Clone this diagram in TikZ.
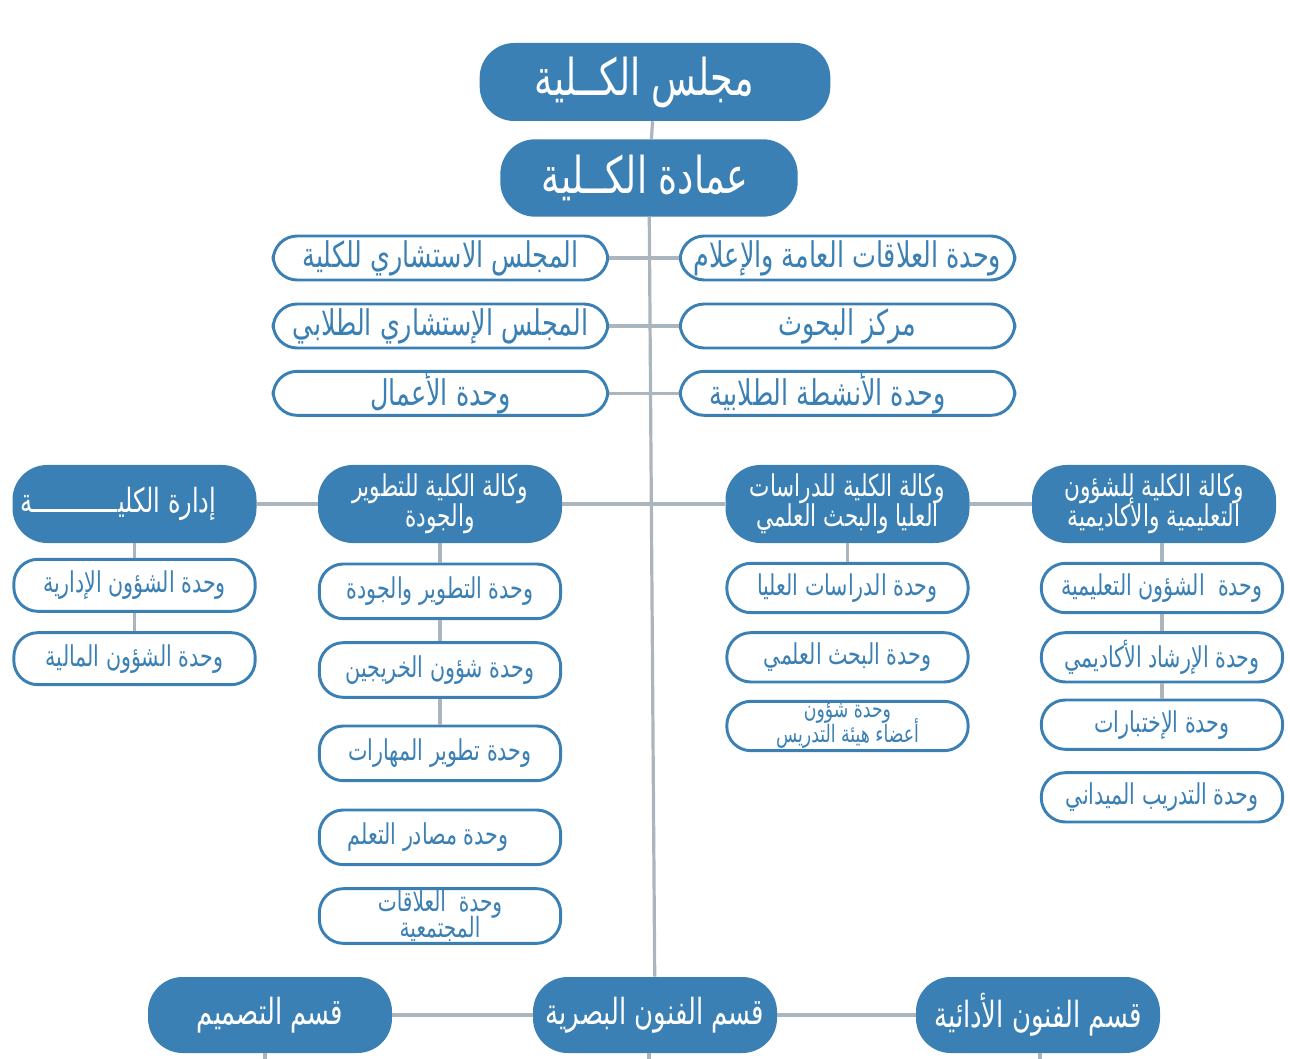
\documentclass[tikz,border=0pt]{standalone}
\usepackage{fontspec}
\usetikzlibrary{positioning}
\TeXXeTstate=1
\newfontfamily\arabicfont[Script=Arabic,FakeStretch=0.72]{DejaVu Sans}
\definecolor{deanblue}{RGB}{59,128,180}
\definecolor{linkgray}{RGB}{170,181,189}
\newcommand{\arsize}[2]{\arabicfont\fontsize{#1}{#2}\selectfont\lineskiplimit=-\maxdimen}
\newcommand{\rl}[1]{\beginR #1\endR}
\tikzstyle{every node}=[align=center,inner sep=0pt]
\tikzstyle{head}=[fill=deanblue,text=white,rectangle,rounded corners=26pt,minimum width=183pt,minimum height=58.5pt,font=\arsize{22.5}{22.5}]
\tikzstyle{top}=[head,font=\arsize{38}{40}]
\tikzstyle{dept}=[head,minimum height=57pt,font=\arsize{27}{28}]
\tikzstyle{unit}=[draw=deanblue,line width=2.2pt,fill=white,text=deanblue,rectangle,rounded corners=18pt,minimum width=181pt,minimum height=37pt,font=\arsize{21.5}{22}]
\tikzstyle{wide}=[unit,minimum width=251pt,minimum height=33pt,font=\arsize{26.5}{28}]
\tikzstyle{twoline}=[unit,font=\arsize{18}{18.5}]
\tikzstyle{link}=[draw=linkgray,line width=2.4pt]

\begin{document}
\begin{tikzpicture}[x=0.75pt,y=-0.75pt]
  \useasboundingbox (0,0) rectangle (1290,1059);
  % council and deanship
  \node[top, minimum width=263pt] (council) at (655,82) {\rl{مجلس الكــلية}\hspace*{16pt}};
  \node[top, minimum width=223pt, minimum height=58pt] (dean) at (649,178) {\rl{عمادة الكــلية}\hspace*{6pt}};
  % boards and units around the trunk
  \node[wide] (board) at (440.5,258) {\rl{المجلس الاستشاري للكلية}};
  \node[wide, below of=board, node distance=51pt] (students) {\rl{المجلس الإستشاري الطلابي}};
  \node[wide, below of=students, node distance=50.5pt] (business) {\rl{وحدة الأعمال}};
  \node[wide] (media) at (847.5,258) {\rl{وحدة العلاقات العامة والإعلام}};
  \node[wide, below of=media, node distance=51pt] (research) {\rl{مركز البحوث}};
  \node[wide, below of=research, node distance=50.5pt] (activity) {\hspace*{-30pt}\rl{وحدة الأنشطة الطلابية}};
  % vice deanships
  \node[head, font=\arsize{25}{26}] (admin) at (134.5,504) {\rl{إدارة الكليــــــــــــة}\hspace*{24pt}};
  \node[head] (quality) at (440,504) {\rl{وكالة الكلية للتطوير}\\\rl{والجودة}};
  \node[head] (grad) at (847.5,504) {\rl{وكالة الكلية للدراسات}\\\rl{العليا والبحث العلمي}};
  \node[head] (acad) at (1154,504) {\rl{وكالة الكلية للشؤون}\\\rl{التعليمية والأكاديمية}};
  % units below each vice deanship
  \node[unit, minimum height=39pt, below of=admin, node distance=61pt] (adm1) {\rl{وحدة الشؤون الإدارية}};
  \node[unit, minimum height=39pt, below of=adm1, node distance=55pt] (adm2) {\rl{وحدة الشؤون المالية}};
  \node[unit, minimum height=41pt, below of=quality, node distance=65.5pt] (qua1) {\rl{وحدة التطوير والجودة}};
  \node[unit, minimum height=41pt, below of=qua1, node distance=59pt] (qua2) {\rl{وحدة شؤون الخريجين}};
  \node[unit, minimum height=41pt, below of=qua2, node distance=62.5pt] (qua3) {\rl{وحدة تطوير المهارات}};
  \node[unit, minimum height=41pt, below of=qua3, node distance=63pt] (qua4) {\hspace*{-18pt}\rl{وحدة مصادر التعلم}};
  \node[twoline, minimum height=41pt, below of=qua4, node distance=59pt, font=\arsize{21}{19.5}] (qua5) {\rl{وحدة\ \ العلاقات}\\\rl{المجتمعية}};
  \node[unit, below of=grad, node distance=63pt] (gra1) {\rl{وحدة الدراسات العليا}};
  \node[unit, below of=gra1, node distance=52pt] (gra2) {\rl{وحدة البحث العلمي}};
  \node[twoline, below of=gra2, node distance=51.5pt] (gra3) {\rl{وحدة شؤون}\\\rl{أعضاء هيئة التدريس}};
  \node[unit] (aca1) at (1162,588) {\rl{وحدة\ \ الشؤون التعليمية}};
  \node[unit, below of=aca1, node distance=52pt] (aca2) {\rl{وحدة الإرشاد الأكاديمي}};
  \node[unit, below of=aca2, node distance=50.5pt] (aca3) {\rl{وحدة الإختبارات}};
  \node[unit, below of=aca3, node distance=54.5pt] (aca4) {\rl{وحدة التدريب الميداني}};
  % departments
  \node[dept] (design) at (270,1015) {\rl{قسم التصميم}};
  \node[dept] (visual) at (655,1015) {\rl{قسم الفنون البصرية}};
  \node[dept] (perform) at (1038,1015) {\rl{قسم الفنون الأدائية}};
  \coordinate (designend) at (265,1062);
  \coordinate (visualend) at (649,1062);
  \coordinate (performend) at (1040,1062);
  % connectors
  \draw[link] (council) -- (dean);
  \draw[link] (dean) -- (visual);
  \draw[link] (board) -- (media);
  \draw[link] (students) -- (research);
  \draw[link] (business) -- (activity);
  \draw[link] (admin) -- (quality);
  \draw[link] (quality) -- (grad);
  \draw[link] (grad) -- (acad);
  \draw[link] (admin) -- (adm1);
  \draw[link] (adm1) -- (adm2);
  \draw[link] (quality) -- (qua1);
  \draw[link] (qua1) -- (qua2);
  \draw[link] (qua2) -- (qua3);
  \draw[link] (grad) -- (gra1);
  \draw[link] (aca1.north) -- (aca1.north |- acad.south);
  \draw[link] (aca1) -- (aca2);
  \draw[link] (aca2) -- (aca3);
  \draw[link] (design) -- (visual);
  \draw[link] (visual) -- (perform);
  \draw[link] (designend |- design.south) -- (designend);
  \draw[link] (visualend |- visual.south) -- (visualend);
  \draw[link] (performend |- perform.south) -- (performend);
\end{tikzpicture}
\end{document}
